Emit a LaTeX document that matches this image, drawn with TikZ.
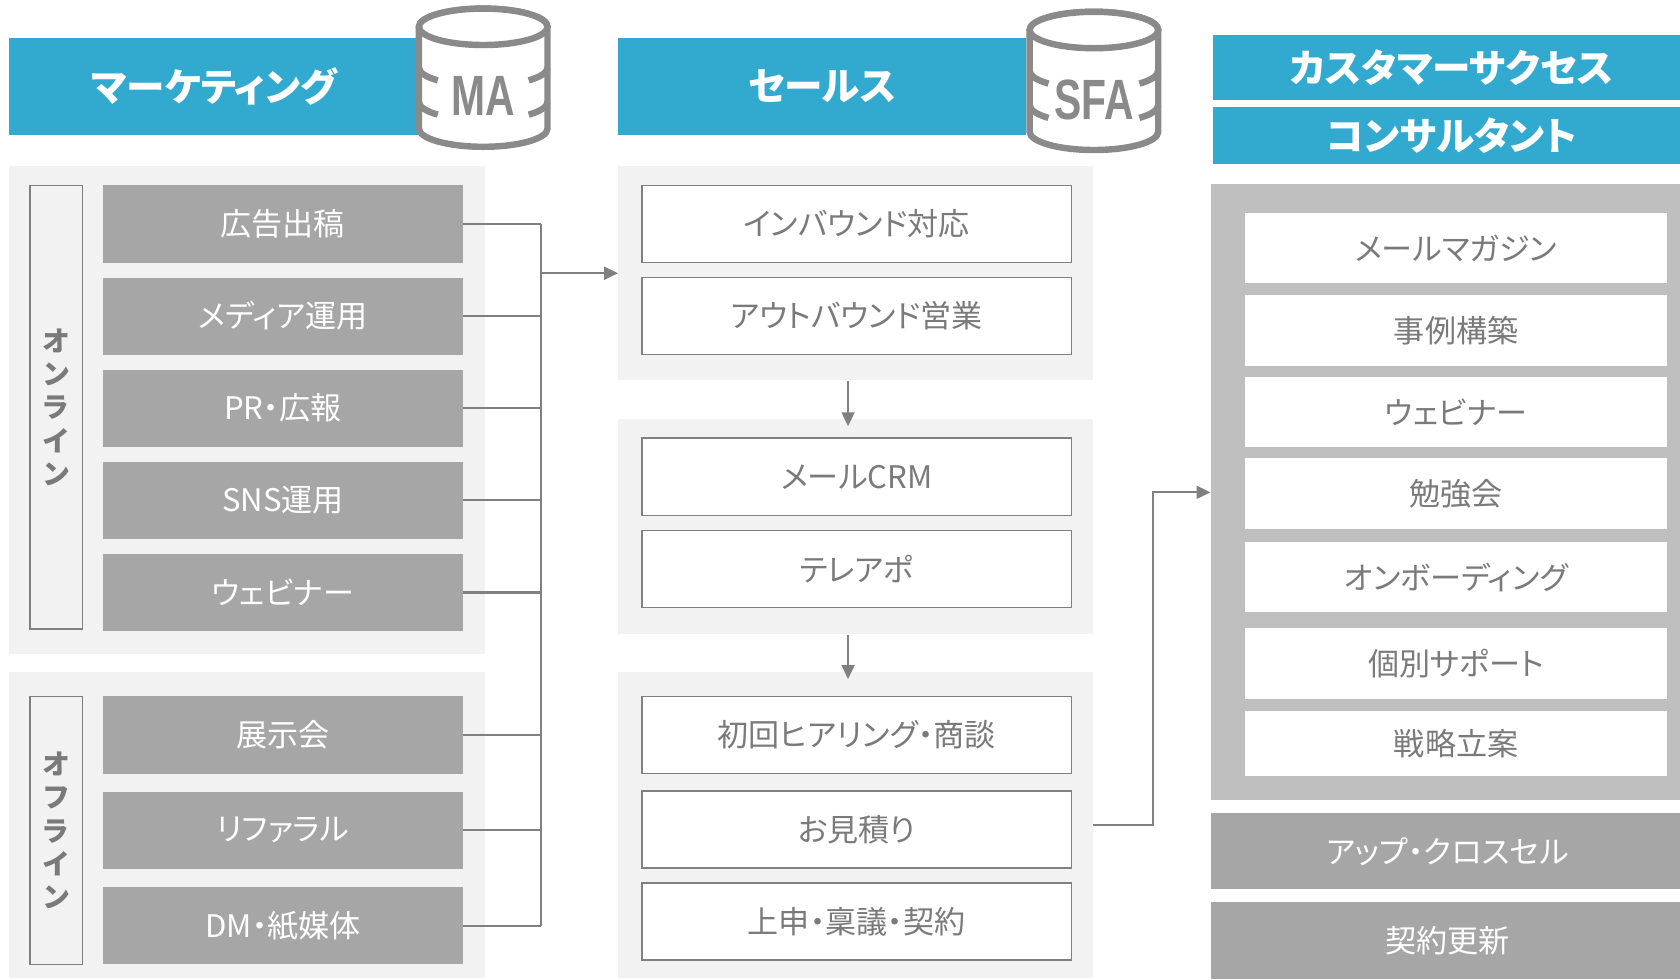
\documentclass[tikz,border=0pt]{standalone}
\usepackage{fontspec}
\setmainfont[RawFeature=+palt]{Noto Sans CJK JP}
\newfontfamily\dbfont{Liberation Sans}
\usetikzlibrary{arrows.meta}

\definecolor{hdblue}{HTML}{32AAD0}
\definecolor{bglight}{HTML}{F2F2F2}
\definecolor{bgmid}{HTML}{BFBFBF}
\definecolor{itemgray}{HTML}{A6A6A6}
\definecolor{linegray}{HTML}{808080}
\definecolor{txtgray}{HTML}{7A7A7A}
\definecolor{cylgray}{HTML}{8A8A8A}

\begin{document}
\begin{tikzpicture}[x=1pt,y=-1pt,
    hd/.style={fill=hdblue,text=white,inner sep=0pt,font=\fontsize{36}{40}\selectfont\bfseries},
    grp/.style={fill=bglight,inner sep=0pt},
    mitem/.style={fill=itemgray,text=white,inner sep=0pt,minimum width=336pt,minimum height=72pt,font=\fontsize{29}{32}\selectfont},
    sitem/.style={draw=linegray,line width=1.5pt,fill=white,text=txtgray,inner sep=0pt,minimum width=401pt,minimum height=72pt,font=\fontsize{29}{32}\selectfont},
    citem/.style={fill=white,text=txtgray,inner sep=0pt,minimum width=394pt,minimum height=66pt,font=\fontsize{29}{32}\selectfont},
    tag/.style={draw=linegray,line width=1.5pt,fill=bglight,text=txtgray,inner sep=0pt,minimum width=49pt,align=center,font=\fontsize{26}{31}\selectfont\bfseries},
    cyl/.style={draw=cylgray,line width=6pt,fill=white},
    conn/.style={draw=linegray,line width=2pt},
    arr/.style={conn,-{Triangle[length=13pt,width=12pt]}}]
  \useasboundingbox (0,0) rectangle (1568,914);

  % headers
  \node[hd,minimum width=384pt,minimum height=91pt] (mhead) at (200,80.5) {マーケティング};
  \node[hd,minimum width=381pt,minimum height=91pt] (shead) at (767.5,80.5) {セールス};
  \node[hd,minimum width=446pt,minimum height=60pt] (chead1) at (1355,63) {カスタマーサクセス};
  \node[hd,minimum width=446pt,minimum height=53pt] (chead2) at (1355,126.5) {コンサルタント};

  % database icons
  \foreach \cx/\ct/\lbl/\nm in {451/25/MA/ma,1021/28/SFA/sfa}{
    \path[cyl] (\cx-60,\ct) -- (\cx-60,\ct+95) arc[start angle=180,end angle=0,x radius=60,y radius=17]
      -- (\cx+60,\ct) arc[start angle=0,end angle=-180,x radius=60,y radius=17] -- cycle;
    \draw[cyl] (\cx,\ct) ellipse[x radius=60,y radius=17];
    \draw[cyl] (\cx-60,\ct+38) arc[start angle=180,end angle=135,x radius=60,y radius=17]
      (\cx+60,\ct+38) arc[start angle=0,end angle=45,x radius=60,y radius=17]
      (\cx-60,\ct+70) arc[start angle=180,end angle=135,x radius=60,y radius=17]
      (\cx+60,\ct+70) arc[start angle=0,end angle=45,x radius=60,y radius=17];
    \node[text=cylgray,inner sep=0pt,font=\dbfont\fontsize{53}{55}\selectfont\bfseries] (\nm) at (\cx,\ct+65) {\scalebox{0.72}[1]{\lbl}};
  }

  % marketing
  \node[grp,minimum width=445pt,minimum height=455pt] (onl) at (230.5,382.5) {};
  \node[grp,minimum width=445pt,minimum height=286pt] (offl) at (230.5,770) {};
  \node[tag,minimum height=414pt] (tagon) at (52.5,380) {オ\\ン\\ラ\\イ\\ン};
  \node[tag,minimum height=250pt] (tagoff) at (52.5,775) {オ\\フ\\ラ\\イ\\ン};
  \node[mitem] (ad) at (264,209) {広告出稿};
  \node[mitem] (media) at (264,295) {メディア運用};
  \node[mitem] (pr) at (264,381) {PR・広報};
  \node[mitem] (sns) at (264,467) {SNS運用};
  \node[mitem] (web) at (264,553) {ウェビナー};
  \node[mitem] (expo) at (264,686) {展示会};
  \node[mitem] (ref) at (264,775) {リファラル};
  \node[mitem] (dm) at (264,864) {DM・紙媒体};

  % sales
  \node[grp,minimum width=443pt,minimum height=200pt] (sg1) at (798.5,255) {};
  \node[grp,minimum width=443pt,minimum height=201pt] (sg2) at (798.5,491.5) {};
  \node[grp,minimum width=443pt,minimum height=286pt] (sg3) at (798.5,770) {};
  \node[sitem] (inb) at (799.5,209) {インバウンド対応};
  \node[sitem] (outb) at (799.5,295) {アウトバウンド営業};
  \node[sitem] (mcrm) at (799.5,445) {メールCRM};
  \node[sitem] (tela) at (799.5,531) {テレアポ};
  \node[sitem] (hear) at (799.5,686) {初回ヒアリング・商談};
  \node[sitem] (quote) at (799.5,774) {お見積り};
  \node[sitem] (sign) at (799.5,860) {上申・稟議・契約};

  % customer success
  \node[fill=bgmid,inner sep=0pt,minimum width=438pt,minimum height=575pt] (cs) at (1349,459.5) {};
  \node[citem] (mag) at (1359,231.5) {メールマガジン};
  \node[citem] (case) at (1359,308.5) {事例構築};
  \node[citem] (webi) at (1359,384.5) {ウェビナー};
  \node[citem] (study) at (1359,460.5) {勉強会};
  \node[citem] (onb) at (1359,538.5) {オンボーディング};
  \node[citem] (supp) at (1359,619.5) {個別サポート};
  \node[citem,minimum height=60pt] (plan) at (1359,694) {戦略立案};
  \node[mitem,minimum width=442pt,minimum height=71pt] (upx) at (1351,794.5) {アップ・クロスセル};
  \node[mitem,minimum width=442pt,minimum height=72pt] (renew) at (1351,878) {契約更新};

  % connectors
  \coordinate (bus) at (505,256);
  \foreach \n in {ad,media,pr,sns,web,expo,ref,dm}
    \draw[conn] (\n.east) -- (\n.east -| bus);
  \draw[conn] (ad.east -| bus) -- (dm.east -| bus);
  \draw[arr] (sg1.west -| bus) -- (sg1.west);
  \draw[arr] ([xshift=-7pt]sg1.south) -- ([xshift=-7pt,yshift=-7pt]sg2.north);
  \draw[arr] ([xshift=-7pt]sg2.south) -- ([xshift=-7pt,yshift=-7pt]sg3.north);
  \draw[arr] (sg3.east) -- ++(56,0) |- (cs.west);
\end{tikzpicture}
\end{document}
